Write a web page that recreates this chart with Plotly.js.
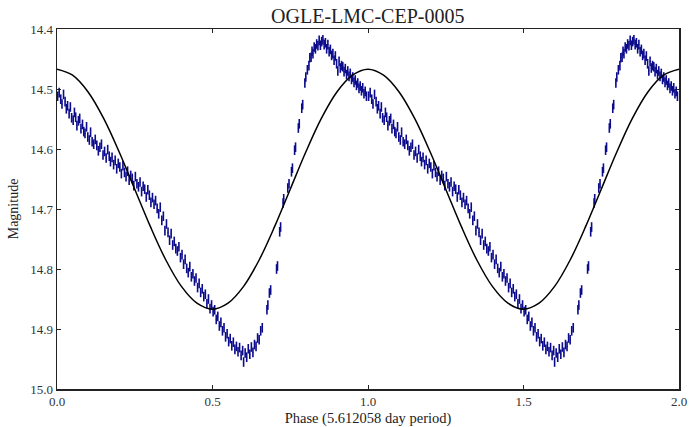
<!DOCTYPE html>
<html>
<head>
<meta charset="utf-8">
<script src="https://cdn.plot.ly/plotly-3.0.1.min.js"></script>
<style>html,body{margin:0;padding:0;background:#fff;}#chart{width:690px;height:427px;}</style>
</head>
<body>
<div id="chart"></div>
<script>
const phase = [
0.002,0.007,0.012,0.016,0.021,0.026,0.030,0.034,0.039,0.043,0.047,0.052,0.056,0.060,0.064,0.069,0.073,0.077,0.082,0.086,
0.090,0.095,0.099,0.104,0.108,0.113,0.118,0.123,0.128,0.133,0.138,0.143,0.148,0.153,0.158,0.163,0.168,0.172,0.177,0.182,
0.187,0.192,0.197,0.202,0.207,0.212,0.217,0.222,0.227,0.232,0.237,0.242,0.247,0.252,0.257,0.262,0.267,0.272,0.277,0.282,
0.287,0.292,0.297,0.302,0.307,0.312,0.317,0.322,0.327,0.332,0.337,0.342,0.347,0.352,0.357,0.362,0.367,0.372,0.377,0.382,
0.387,0.392,0.397,0.402,0.407,0.412,0.417,0.422,0.427,0.432,0.437,0.442,0.447,0.452,0.457,0.462,0.467,0.472,0.477,0.482,
0.487,0.492,0.497,0.502,0.507,0.512,0.517,0.522,0.527,0.532,0.537,0.542,0.547,0.552,0.557,0.562,0.567,0.572,0.577,0.582,
0.587,0.592,0.597,0.600,0.605,0.610,0.615,0.620,0.625,0.630,0.635,0.640,0.645,0.650,0.655,0.660,0.675,0.678,0.683,0.687,
0.706,0.709,0.716,0.719,0.727,0.729,0.742,0.746,0.754,0.757,0.764,0.767,0.776,0.779,0.787,0.790,0.797,0.800,0.805,0.810,
0.813,0.817,0.820,0.823,0.827,0.831,0.835,0.839,0.843,0.847,0.851,0.855,0.859,0.863,0.867,0.871,0.875,0.879,0.883,0.887,
0.891,0.895,0.899,0.903,0.907,0.911,0.915,0.919,0.923,0.927,0.931,0.935,0.939,0.943,0.947,0.951,0.955,0.959,0.963,0.967,
0.971,0.975,0.979,0.983,0.987,0.991,0.995
];
const mag = [
14.512,14.506,14.517,14.525,14.509,14.521,14.533,14.528,14.541,14.530,14.548,14.552,14.539,14.547,14.561,14.553,14.549,14.566,14.559,14.571,
14.574,14.563,14.580,14.585,14.572,14.588,14.592,14.584,14.594,14.603,14.597,14.592,14.610,14.604,14.615,14.601,14.612,14.621,14.614,14.626,
14.619,14.633,14.624,14.630,14.641,14.628,14.639,14.646,14.637,14.652,14.644,14.649,14.661,14.646,14.658,14.663,14.655,14.671,14.662,14.667,
14.680,14.668,14.677,14.689,14.681,14.692,14.686,14.699,14.708,14.697,14.719,14.712,14.736,14.725,14.739,14.752,14.741,14.760,14.754,14.766,
14.770,14.763,14.781,14.776,14.792,14.784,14.799,14.806,14.796,14.813,14.808,14.820,14.815,14.831,14.824,14.839,14.833,14.846,14.842,14.858,
14.850,14.866,14.860,14.871,14.868,14.884,14.879,14.895,14.889,14.903,14.898,14.913,14.908,14.921,14.916,14.928,14.922,14.934,14.929,14.938,
14.931,14.944,14.936,14.955,14.940,14.947,14.933,14.942,14.930,14.939,14.926,14.929,14.915,14.918,14.903,14.898,14.868,14.860,14.840,14.835,
14.800,14.795,14.738,14.730,14.690,14.683,14.665,14.658,14.638,14.632,14.602,14.597,14.565,14.558,14.532,14.526,14.490,14.480,14.468,14.461,
14.448,14.447,14.437,14.441,14.430,14.433,14.425,14.428,14.419,14.427,14.421,14.418,14.426,14.423,14.433,14.426,14.438,14.434,14.444,14.441,
14.452,14.445,14.458,14.470,14.454,14.465,14.461,14.463,14.471,14.466,14.476,14.470,14.479,14.474,14.484,14.480,14.489,14.485,14.494,14.490,
14.499,14.495,14.503,14.498,14.508,14.504,14.512
];
const magErr = 0.008;

// Fitted sinusoid
const fitPhase = [0.00,0.05,0.10,0.15,0.20,0.25,0.30,0.35,0.40,0.45,0.50,0.55,0.60,0.65,0.70,0.75,0.80,0.85,0.90,0.95,
1.00,1.05,1.10,1.15,1.20,1.25,1.30,1.35,1.40,1.45,1.50,1.55,1.60,1.65,1.70,1.75,1.80,1.85,1.90,1.95,2.00];
const fitMag = [14.467,14.477,14.505,14.549,14.605,14.667,14.729,14.785,14.829,14.857,14.867,14.857,14.829,14.785,14.729,14.667,14.605,14.549,14.505,14.477,
14.467,14.477,14.505,14.549,14.605,14.667,14.729,14.785,14.829,14.857,14.867,14.857,14.829,14.785,14.729,14.667,14.605,14.549,14.505,14.477,14.467];

const xTicks = [0, 0.5, 1.0, 1.5, 2.0];
const yTicks = [14.4, 14.5, 14.6, 14.7, 14.8, 14.9, 15.0];

const xs = phase.concat(phase.map(p => p + 1));
const ys = mag.concat(mag);

const font = '"Liberation Serif", "DejaVu Serif", serif';
const navy = '#0b0b8c';

const traces = [
  {
    x: xs, y: ys, type: 'scatter', mode: 'markers',
    marker: {size: 1, color: navy},
    error_y: {type: 'constant', value: magErr, visible: true, color: navy, thickness: 1.6, width: 0},
    hoverinfo: 'skip', showlegend: false
  },
  {
    x: fitPhase, y: fitMag, type: 'scatter', mode: 'lines',
    line: {color: '#000', width: 1.5, shape: 'spline', smoothing: 1},
    showlegend: false
  }
];

const axisCommon = {
  showline: true, linecolor: '#222', linewidth: 1.5, mirror: 'ticks',
  ticks: 'inside', ticklen: 4, tickwidth: 1, tickcolor: '#222',
  showgrid: false, zeroline: false,
  tickfont: {family: font, size: 13, color: '#333'}
};

const layout = {
  width: 690, height: 427,
  margin: {l: 57, r: 11, t: 29, b: 38},
  paper_bgcolor: '#fff', plot_bgcolor: '#fff',
  font: {family: font, color: '#222'},
  title: {text: 'OGLE-LMC-CEP-0005', font: {family: font, size: 20, color: '#222'},
          x: 0.533, xanchor: 'center', y: 0.962, yanchor: 'middle', yref: 'container'},
  xaxis: Object.assign({}, axisCommon, {
    range: [0, 2], tickvals: xTicks, tickformat: '.1f',
    title: {text: 'Phase (5.612058 day period)', font: {family: font, size: 14.5, color: '#222'}, standoff: 5}
  }),
  yaxis: Object.assign({}, axisCommon, {
    range: [15.0, 14.4], tickvals: yTicks, tickformat: '.1f',
    title: {text: 'Magnitude', font: {family: font, size: 14, color: '#222'}, standoff: 8}
  })
};

Plotly.newPlot('chart', traces, layout, {displayModeBar: false, staticPlot: true});
</script>
</body>
</html>
